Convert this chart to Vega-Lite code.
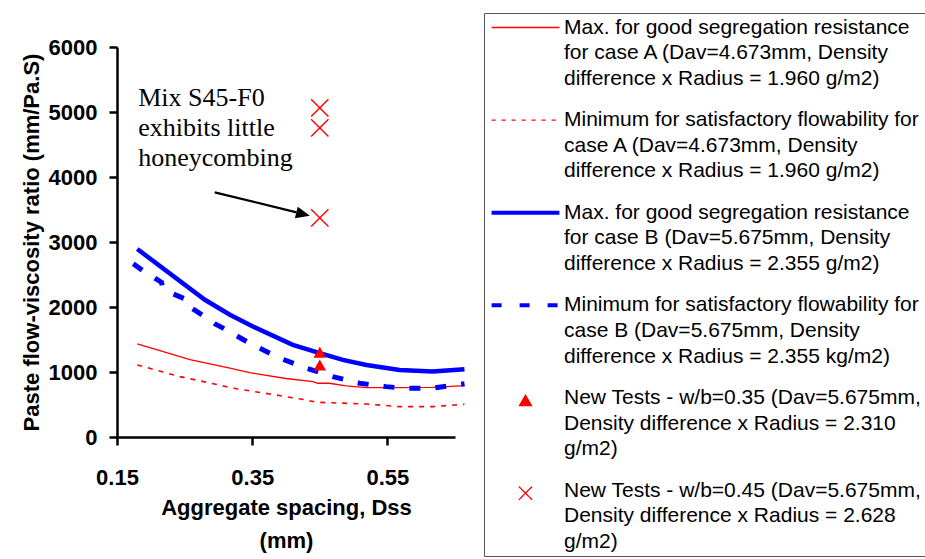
{
  "$schema": "https://vega.github.io/schema/vega-lite/v6.json",
  "width": 338,
  "height": 390,
  "autosize": "none",
  "padding": {"left": 117, "top": 47, "right": 470, "bottom": 122},
  "background": "white",
  "config": {
    "view": {"stroke": null},
    "axis": {
      "grid": false,
      "labelFlush": false,
      "domainColor": "black",
      "domainWidth": 2.5,
      "tickColor": "black",
      "tickWidth": 2.5,
      "tickSize": 8,
      "labelFont": "Liberation Sans",
      "labelFontWeight": "bold",
      "labelFontSize": 22,
      "labelColor": "black",
      "titleFont": "Liberation Sans",
      "titleFontWeight": "bold",
      "titleFontSize": 22,
      "titleColor": "black"
    }
  },
  "datasets": {
    "lines": [
      {"series": "maxA", "x": 0.180, "y": 1433},
      {"series": "maxA", "x": 0.258, "y": 1190},
      {"series": "maxA", "x": 0.317, "y": 1058},
      {"series": "maxA", "x": 0.346, "y": 990},
      {"series": "maxA", "x": 0.400, "y": 900},
      {"series": "maxA", "x": 0.440, "y": 852},
      {"series": "maxA", "x": 0.447, "y": 827},
      {"series": "maxA", "x": 0.464, "y": 827},
      {"series": "maxA", "x": 0.489, "y": 786},
      {"series": "maxA", "x": 0.519, "y": 760},
      {"series": "maxA", "x": 0.568, "y": 760},
      {"series": "maxA", "x": 0.617, "y": 765},
      {"series": "maxA", "x": 0.664, "y": 791},
      {"series": "minA", "x": 0.180, "y": 1109},
      {"series": "minA", "x": 0.243, "y": 929},
      {"series": "minA", "x": 0.280, "y": 848},
      {"series": "minA", "x": 0.322, "y": 750},
      {"series": "minA", "x": 0.380, "y": 655},
      {"series": "minA", "x": 0.430, "y": 570},
      {"series": "minA", "x": 0.445, "y": 534},
      {"series": "minA", "x": 0.519, "y": 508},
      {"series": "minA", "x": 0.568, "y": 467},
      {"series": "minA", "x": 0.617, "y": 467},
      {"series": "minA", "x": 0.664, "y": 504},
      {"series": "maxB", "x": 0.180, "y": 2892},
      {"series": "maxB", "x": 0.280, "y": 2111},
      {"series": "maxB", "x": 0.317, "y": 1880},
      {"series": "maxB", "x": 0.351, "y": 1700},
      {"series": "maxB", "x": 0.410, "y": 1418},
      {"series": "maxB", "x": 0.450, "y": 1290},
      {"series": "maxB", "x": 0.484, "y": 1186},
      {"series": "maxB", "x": 0.519, "y": 1109},
      {"series": "maxB", "x": 0.568, "y": 1032},
      {"series": "maxB", "x": 0.617, "y": 1006},
      {"series": "maxB", "x": 0.664, "y": 1043},
      {"series": "minB", "x": 0.174, "y": 2666},
      {"series": "minB", "x": 0.188, "y": 2562},
      {"series": "minB", "x": 0.206, "y": 2445},
      {"series": "minB", "x": 0.216, "y": 2378},
      {"series": "minB", "x": 0.217, "y": 2316},
      {"series": "minB", "x": 0.226, "y": 2230},
      {"series": "minB", "x": 0.254, "y": 2111},
      {"series": "minB", "x": 0.258, "y": 2049},
      {"series": "minB", "x": 0.259, "y": 1988},
      {"series": "minB", "x": 0.268, "y": 1931},
      {"series": "minB", "x": 0.287, "y": 1803},
      {"series": "minB", "x": 0.295, "y": 1741},
      {"series": "minB", "x": 0.307, "y": 1675},
      {"series": "minB", "x": 0.346, "y": 1444},
      {"series": "minB", "x": 0.391, "y": 1213},
      {"series": "minB", "x": 0.430, "y": 1059},
      {"series": "minB", "x": 0.469, "y": 929},
      {"series": "minB", "x": 0.509, "y": 827},
      {"series": "minB", "x": 0.548, "y": 775},
      {"series": "minB", "x": 0.575, "y": 750},
      {"series": "minB", "x": 0.615, "y": 750},
      {"series": "minB", "x": 0.664, "y": 820}
    ],
    "tests": [
      {"series": "nt035", "x": 0.45, "y": 1305},
      {"series": "nt035", "x": 0.45, "y": 1109},
      {"series": "nt045", "x": 0.45, "y": 5064},
      {"series": "nt045", "x": 0.45, "y": 4757},
      {"series": "nt045", "x": 0.45, "y": 3370}
    ],
    "note": [
      {"x": 0.1814, "y": 5089, "text": "Mix S45-F0\nexhibits little\nhoneycombing"}
    ],
    "arrow": [
      {"x": 0.2946, "y": 3764, "x2": 0.4157, "y2": 3456}
    ],
    "arrowhead": [
      {"x": 0.4253, "y": 3428}
    ]
  },
  "layer": [
    {
      "data": {"name": "lines"},
      "transform": [{"filter": "datum.series == 'maxA'"}],
      "mark": {"type": "line", "clip": false, "strokeWidth": 1.3},
      "encoding": {
        "x": {
          "field": "x", "type": "quantitative",
          "scale": {"domain": [0.15, 0.65], "nice": false, "zero": false},
          "axis": {
            "values": [0.15, 0.35, 0.55],
            "format": ".2f",
            "labelPadding": 22,
            "title": ["Aggregate spacing, Dss", "(mm)"],
            "titlePadding": 9,
            "titleLineHeight": 33
          }
        },
        "y": {
          "field": "y", "type": "quantitative",
          "scale": {"domain": [0, 6000], "nice": false},
          "axis": {
            "values": [0, 1000, 2000, 3000, 4000, 5000, 6000],
            "format": "d",
            "labelPadding": 12,
            "title": "Paste flow-viscosity ratio (mm/Pa.S)",
            "titlePadding": 4.5
          }
        },
        "color": {
          "field": "series", "type": "nominal",
          "scale": {
            "domain": ["maxA", "minA", "maxB", "minB", "nt035", "nt045"],
            "range": ["#FF0000", "#FF0000", "#0000FF", "#0000FF", "#FF0000", "#FF0000"]
          },
          "legend": {
            "orient": "none",
            "legendX": 367,
            "legendY": -34,
            "title": null,
            "padding": 4,
            "strokeColor": "#555555",
            "fillColor": "white",
            "rowPadding": 19.6,
            "labelLimit": 0,
            "labelFont": "Liberation Sans",
            "labelFontSize": 21,
            "labelColor": "black",
            "labelBaseline": "alphabetic",
            "labelExpr": "datum.value == 'maxA' ? ['Max. for good segregation resistance', 'for case A (Dav=4.673mm, Density', 'difference x Radius = 1.960 g/m2)'] : datum.value == 'minA' ? ['Minimum for satisfactory flowability for', 'case A (Dav=4.673mm, Density', 'difference x Radius = 1.960 g/m2)'] : datum.value == 'maxB' ? ['Max. for good segregation resistance', 'for case B (Dav=5.675mm, Density', 'difference x Radius = 2.355 g/m2)'] : datum.value == 'minB' ? ['Minimum for satisfactory flowability for', 'case B (Dav=5.675mm, Density', 'difference x Radius = 2.355 kg/m2)'] : datum.value == 'nt035' ? ['New Tests - w/b=0.35 (Dav=5.675mm,', 'Density difference x Radius = 2.310', 'g/m2)'] : ['New Tests - w/b=0.45 (Dav=5.675mm,', 'Density difference x Radius  = 2.628', 'g/m2)']",
            "encode": {
              "labels": {"update": {"x": {"value": 76}, "lineHeight": {"value": 25.7}, "dy": {"value": 6}}},
              "symbols": {
                "update": {
                  "x": {"value": 37.5},
                  "shape": {"signal": "datum.value == 'nt035' ? 'M0,-0.45L1,1.3L-1,1.3Z' : datum.value == 'nt045' ? 'M-1,-0.6L1,1.4M-1,1.4L1,-0.6' : 'stroke'"},
                  "size": {"signal": "datum.value == 'nt035' ? 144 : datum.value == 'nt045' ? 177 : 4600"},
                  "fill": {"signal": "datum.value == 'nt035' ? '#FF0000' : 'transparent'"},
                  "stroke": {"signal": "datum.value == 'maxB' || datum.value == 'minB' ? '#0000FF' : datum.value == 'nt035' ? 'transparent' : '#FF0000'"},
                  "strokeWidth": {"signal": "datum.value == 'maxB' || datum.value == 'minB' ? 4 : 1.3"},
                  "strokeDash": {"signal": "datum.value == 'minA' ? [4, 6] : datum.value == 'minB' ? [10, 18] : [1, 0]"},
                  "opacity": {"value": 1}
                }
              }
            }
          }
        }
      }
    },
    {
      "data": {"name": "lines"},
      "transform": [{"filter": "datum.series == 'minA'"}],
      "mark": {"type": "line", "clip": false, "strokeWidth": 1.6, "strokeDash": [5, 6]},
      "encoding": {
        "x": {"field": "x", "type": "quantitative"},
        "y": {"field": "y", "type": "quantitative"},
        "color": {"field": "series", "type": "nominal"}
      }
    },
    {
      "data": {"name": "lines"},
      "transform": [{"filter": "datum.series == 'maxB'"}],
      "mark": {"type": "line", "clip": false, "strokeWidth": 4.5},
      "encoding": {
        "x": {"field": "x", "type": "quantitative"},
        "y": {"field": "y", "type": "quantitative"},
        "color": {"field": "series", "type": "nominal"}
      }
    },
    {
      "data": {"name": "lines"},
      "transform": [{"filter": "datum.series == 'minB'"}],
      "mark": {"type": "line", "clip": false, "strokeWidth": 5, "strokeDash": [11, 15]},
      "encoding": {
        "x": {"field": "x", "type": "quantitative"},
        "y": {"field": "y", "type": "quantitative"},
        "color": {"field": "series", "type": "nominal"}
      }
    },
    {
      "data": {"name": "tests"},
      "transform": [{"filter": "datum.series == 'nt035'"}],
      "mark": {"type": "point", "shape": "triangle-up", "filled": true, "size": 160, "opacity": 1, "clip": false},
      "encoding": {
        "x": {"field": "x", "type": "quantitative"},
        "y": {"field": "y", "type": "quantitative"},
        "color": {"field": "series", "type": "nominal"}
      }
    },
    {
      "data": {"name": "tests"},
      "transform": [{"filter": "datum.series == 'nt045'"}],
      "mark": {"type": "point", "shape": "M-1,-1L1,1M-1,1L1,-1", "filled": false, "size": 300, "strokeWidth": 1.4, "opacity": 1, "clip": false},
      "encoding": {
        "x": {"field": "x", "type": "quantitative"},
        "y": {"field": "y", "type": "quantitative"},
        "color": {"field": "series", "type": "nominal"}
      }
    },
    {
      "data": {"name": "note"},
      "mark": {"type": "text", "align": "left", "baseline": "alphabetic", "font": "Liberation Serif", "fontSize": 26, "lineHeight": 30, "lineBreak": "\n", "color": "black"},
      "encoding": {
        "x": {"field": "x", "type": "quantitative"},
        "y": {"field": "y", "type": "quantitative"},
        "text": {"field": "text"}
      }
    },
    {
      "data": {"name": "arrow"},
      "mark": {"type": "rule", "color": "black", "strokeWidth": 2.2},
      "encoding": {
        "x": {"field": "x", "type": "quantitative"},
        "y": {"field": "y", "type": "quantitative"},
        "x2": {"field": "x2"},
        "y2": {"field": "y2"}
      }
    },
    {
      "data": {"name": "arrowhead"},
      "mark": {"type": "point", "shape": "M1,0L-1,-0.85L-1,0.85Z", "filled": true, "color": "black", "size": 196, "angle": 14, "opacity": 1},
      "encoding": {
        "x": {"field": "x", "type": "quantitative"},
        "y": {"field": "y", "type": "quantitative"}
      }
    }
  ]
}
